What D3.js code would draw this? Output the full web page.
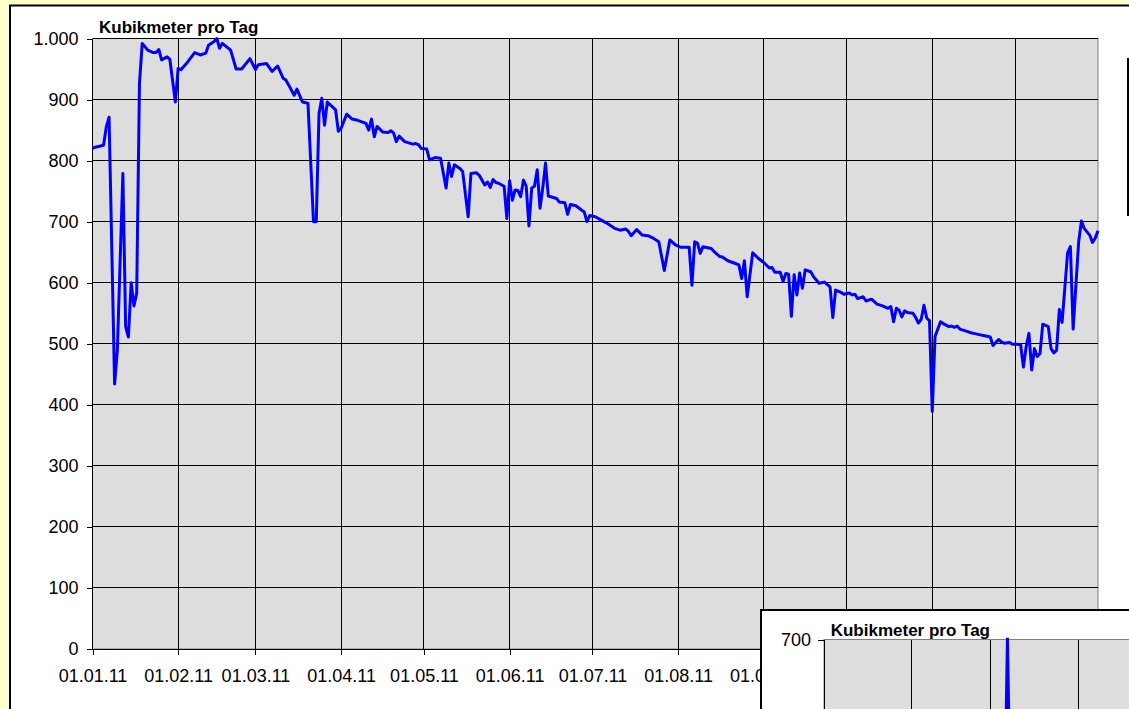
<!DOCTYPE html>
<html><head><meta charset="utf-8">
<script src="https://cdn.jsdelivr.net/npm/d3@7"></script>
<style>html,body{margin:0;padding:0;background:#FFFFCC;overflow:hidden}</style>
</head><body>
<svg id="c" width="1129" height="709"></svg>
<script>
const chartTitle = "Kubikmeter pro Tag";
const dates = [
"2011-01-01","2011-01-02","2011-01-05","2011-01-06","2011-01-07","2011-01-09","2011-01-10","2011-01-12","2011-01-13","2011-01-14",
"2011-01-15","2011-01-16","2011-01-17","2011-01-18","2011-01-19","2011-01-21","2011-01-23","2011-01-24","2011-01-25","2011-01-26",
"2011-01-28","2011-01-29","2011-01-31","2011-02-01","2011-02-02","2011-02-04","2011-02-05","2011-02-07","2011-02-09","2011-02-11",
"2011-02-12","2011-02-14","2011-02-15","2011-02-16","2011-02-17","2011-02-20","2011-02-22","2011-02-24","2011-02-27","2011-03-01",
"2011-03-02","2011-03-05","2011-03-07","2011-03-09","2011-03-11","2011-03-12","2011-03-13","2011-03-15","2011-03-16","2011-03-18",
"2011-03-20","2011-03-22","2011-03-23","2011-03-24","2011-03-25","2011-03-26","2011-03-27","2011-03-30","2011-03-31","2011-04-01",
"2011-04-03","2011-04-05","2011-04-07","2011-04-10","2011-04-11","2011-04-12","2011-04-13","2011-04-14","2011-04-16","2011-04-18",
"2011-04-19","2011-04-20","2011-04-21","2011-04-22","2011-04-24","2011-04-27","2011-04-28","2011-04-29","2011-04-30","2011-05-02",
"2011-05-03","2011-05-05","2011-05-07","2011-05-09","2011-05-10","2011-05-11","2011-05-12","2011-05-14","2011-05-15","2011-05-17",
"2011-05-18","2011-05-20","2011-05-21","2011-05-23","2011-05-24","2011-05-25","2011-05-26","2011-05-27","2011-05-28","2011-05-30",
"2011-05-31","2011-06-01","2011-06-02","2011-06-03","2011-06-04","2011-06-05","2011-06-06","2011-06-07","2011-06-08","2011-06-09",
"2011-06-10","2011-06-11","2011-06-12","2011-06-13","2011-06-14","2011-06-15","2011-06-18","2011-06-19","2011-06-21","2011-06-22",
"2011-06-23","2011-06-25","2011-06-27","2011-06-28","2011-06-29","2011-06-30","2011-07-02","2011-07-04","2011-07-06","2011-07-09",
"2011-07-11","2011-07-13","2011-07-14","2011-07-15","2011-07-17","2011-07-19","2011-07-21","2011-07-23","2011-07-25","2011-07-27",
"2011-07-29","2011-07-31","2011-08-02","2011-08-05","2011-08-06","2011-08-07","2011-08-08","2011-08-09","2011-08-10","2011-08-13",
"2011-08-14","2011-08-16","2011-08-17","2011-08-19","2011-08-22","2011-08-23","2011-08-24","2011-08-25","2011-08-26","2011-08-28",
"2011-08-30","2011-09-01","2011-09-03","2011-09-04","2011-09-05","2011-09-07","2011-09-08","2011-09-09","2011-09-10","2011-09-11",
"2011-09-12","2011-09-13","2011-09-14","2011-09-15","2011-09-16","2011-09-18","2011-09-19","2011-09-21","2011-09-23","2011-09-25",
"2011-09-26","2011-09-27","2011-09-29","2011-09-30","2011-10-02","2011-10-03","2011-10-04","2011-10-05","2011-10-07","2011-10-08",
"2011-10-10","2011-10-12","2011-10-14","2011-10-16","2011-10-17","2011-10-18","2011-10-19","2011-10-20","2011-10-21","2011-10-22",
"2011-10-23","2011-10-25","2011-10-26","2011-10-27","2011-10-28","2011-10-29","2011-10-30","2011-10-31","2011-11-01","2011-11-02",
"2011-11-04","2011-11-05","2011-11-07","2011-11-08","2011-11-09","2011-11-10","2011-11-11","2011-11-13","2011-11-15","2011-11-16",
"2011-11-18","2011-11-20","2011-11-22","2011-11-23","2011-11-25","2011-11-26","2011-11-27","2011-11-29","2011-11-30","2011-12-02",
"2011-12-03","2011-12-04","2011-12-05","2011-12-06","2011-12-07","2011-12-08","2011-12-09","2011-12-10","2011-12-11","2011-12-13",
"2011-12-14","2011-12-15","2011-12-16","2011-12-17","2011-12-18","2011-12-20","2011-12-21","2011-12-22","2011-12-24","2011-12-25",
"2011-12-26","2011-12-28","2011-12-29","2011-12-30","2011-12-31"
];
const values = [
820,822,825,855,871,434,490,779,528,511,
600,562,583,926,992,981,977,977,982,965,
970,966,896,951,949,959,965,977,973,976,
989,995,1000,984,992,981,950,950,967,949,
957,959,946,955,935,932,924,907,917,896,
894,700,700,877,902,858,896,883,848,853,
876,868,866,861,850,868,839,856,847,846,
849,845,831,840,831,827,828,826,820,819,
801,805,804,755,796,774,793,787,782,708,
779,780,776,760,765,756,769,764,763,758,
705,767,735,752,751,741,768,758,693,755,
758,785,722,755,796,742,738,732,731,712,
728,726,719,716,700,710,708,703,698,689,
686,688,684,677,687,678,677,673,667,620,
670,662,658,658,596,667,665,648,659,656,
651,643,642,636,631,629,607,636,577,649,
640,633,624,625,617,617,602,615,614,545,
613,580,616,591,621,618,610,599,601,593,
543,588,584,581,583,580,581,574,577,570,
573,565,562,558,561,536,558,555,544,554,
551,550,543,534,540,563,542,538,389,512,
536,533,528,529,527,529,524,521,518,517,
515,513,511,497,507,503,501,502,499,499,
498,462,495,517,457,492,479,484,532,528,
492,485,489,556,535,649,659,524,667,701,
689,678,666,673,685
];
const yTickValues = [0,100,200,300,400,500,600,700,800,900,1000];
const xTickDates = ["2011-01-01","2011-02-01","2011-03-01","2011-04-01","2011-05-01","2011-06-01",
                    "2011-07-01","2011-08-01","2011-09-01","2011-10-01","2011-11-01","2011-12-01"];
const xDomain = ["2011-01-01","2011-12-31"];

// inset chart (partly visible, bottom right)
const insetDates = ["2011-03-06","2011-03-07","2011-03-08"];
const insetValues = [420, 703, 430];
const insetYTicks = [700];
const insetGridDates = ["2011-01-01","2011-02-01","2011-03-01","2011-04-01","2011-05-01"];
const insetXDomain = ["2011-01-01","2011-04-01"];

const parse = d3.utcParse("%Y-%m-%d");
const data = dates.map((d,i)=>({date:parse(d), value:values[i]}));
const fmtY = d3.formatLocale({decimal:",", thousands:".", grouping:[3], currency:["","€"]}).format(",d");
const fmtX = d3.utcFormat("%d.%m.%y");
const FONT = "'Liberation Sans', Arial, sans-serif";

const svg = d3.select("#c");
svg.append("rect").attr("width",1129).attr("height",709).attr("fill","#FFFFCC");
// chart area
svg.append("rect").attr("x",10).attr("y",5.5).attr("width",1300).attr("height",900)
  .attr("fill","#fff").attr("stroke","#000").attr("stroke-width",2);

const L=92.5, R=1098, T=38.5, B=649;
const x = d3.scaleUtc().domain(xDomain.map(parse)).range([L,R]);
const y = d3.scaleLinear().domain([0,1000]).range([B,T]);

svg.append("rect").attr("x",L).attr("y",T).attr("width",R-L).attr("height",B-T)
  .attr("fill","#DDDDDD").attr("stroke","#808080").attr("stroke-width",1);

const grid = svg.append("g").attr("shape-rendering","crispEdges").attr("stroke","#000").attr("stroke-width",1);
grid.selectAll("line.h").data(yTickValues.filter(v=>v>0)).join("line")
  .attr("x1",L).attr("x2",R).attr("y1",d=>y(d)).attr("y2",d=>y(d));
grid.selectAll("line.v").data(xTickDates.slice(1).map(parse)).join("line").attr("class","v")
  .attr("x1",d=>x(d)).attr("x2",d=>x(d)).attr("y1",T).attr("y2",B);

// axes
const yAxis = svg.append("g").attr("transform",`translate(${L},0)`)
  .call(d3.axisLeft(y).tickValues(yTickValues).tickFormat(fmtY).tickSize(6).tickPadding(8));
const xAxis = svg.append("g").attr("transform",`translate(0,${B})`)
  .call(d3.axisBottom(x).tickValues(xTickDates.map(parse)).tickFormat(fmtX).tickSize(6).tickPadding(14));
[yAxis,xAxis].forEach(a=>{
  a.select(".domain").remove();
  a.selectAll("line").attr("stroke","#000").attr("shape-rendering","crispEdges");
  a.selectAll("text").attr("font-family",FONT).attr("font-size",18).attr("fill","#000");
});
svg.append("line").attr("x1",L).attr("x2",L).attr("y1",T).attr("y2",B).attr("stroke","#000").attr("shape-rendering","crispEdges");
svg.append("line").attr("x1",L).attr("x2",R).attr("y1",B).attr("y2",B).attr("stroke","#000").attr("shape-rendering","crispEdges");

// line
svg.append("path").datum(data)
  .attr("d", d3.line().x(d=>x(d.date)).y(d=>y(d.value)))
  .attr("fill","none").attr("stroke","#0000FF").attr("stroke-width",3).attr("stroke-linejoin","round");

svg.append("text").attr("x",99).attr("y",33.3).text(chartTitle)
  .attr("font-family",FONT).attr("font-size",17).attr("font-weight","bold");

// legend box edge on the right
svg.append("rect").attr("x",1128).attr("y",59).attr("width",100).attr("height",156)
  .attr("fill","#fff").attr("stroke","#000").attr("stroke-width",2);

// inset chart
const IL=824, IT=639.5;
svg.append("rect").attr("x",761).attr("y",610).attr("width",600).attr("height",300)
  .attr("fill","#fff").attr("stroke","#000").attr("stroke-width",2);
svg.append("rect").attr("x",IL).attr("y",IT).attr("width",500).attr("height",200)
  .attr("fill","#DDDDDD").attr("stroke","#808080").attr("stroke-width",1);
const ix = d3.scaleUtc().domain(insetXDomain.map(parse)).range([IL,1078]);
const iy = d3.scaleLinear().domain([0,700]).range([IT+700*0.611, IT]);
svg.append("g").attr("shape-rendering","crispEdges").selectAll("line")
  .data(insetGridDates.slice(1).map(parse)).join("line")
  .attr("x1",d=>ix(d)).attr("x2",d=>ix(d)).attr("y1",IT).attr("y2",900).attr("stroke","#000");
const iyAxis = svg.append("g").attr("transform",`translate(${IL},0)`)
  .call(d3.axisLeft(iy).tickValues(insetYTicks).tickFormat(fmtY).tickSize(6).tickPadding(7));
iyAxis.select(".domain").remove();
iyAxis.selectAll("line").attr("stroke","#000").attr("shape-rendering","crispEdges");
iyAxis.selectAll("text").attr("font-family",FONT).attr("font-size",18).attr("fill","#000");
svg.append("line").attr("x1",IL).attr("x2",IL).attr("y1",IT).attr("y2",900).attr("stroke","#000").attr("shape-rendering","crispEdges");
svg.append("path").datum(insetDates.map((d,i)=>({date:parse(d), value:insetValues[i]})))
  .attr("d", d3.line().x(d=>ix(d.date)).y(d=>iy(d.value)))
  .attr("fill","none").attr("stroke","#0000FF").attr("stroke-width",3);
svg.append("text").attr("x",830.7).attr("y",635.7).text(chartTitle)
  .attr("font-family",FONT).attr("font-size",17).attr("font-weight","bold");
</script>
</body></html>
